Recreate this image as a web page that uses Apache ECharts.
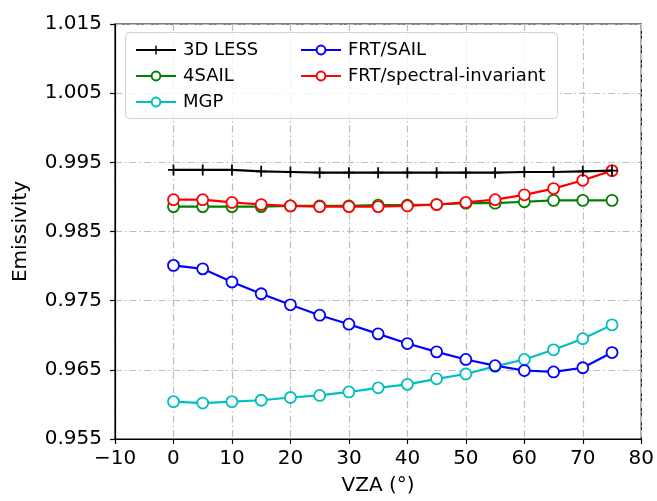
<!DOCTYPE html>
<html>
<head>
<meta charset="utf-8">
<script src="https://cdn.jsdelivr.net/npm/echarts@6/dist/echarts.min.js"></script>
<style>
  html, body { margin: 0; padding: 0; background: #fff; }
  #chart { width: 657px; height: 501px; }
</style>
</head>
<body>
<div id="chart"></div>
<script>
  // VZA angles (deg)
  const vza = [0, 5, 10, 15, 20, 25, 30, 35, 40, 45, 50, 55, 60, 65, 70, 75];

  // emissivity per model
  const less3d = [0.9939, 0.9939, 0.9939, 0.9937, 0.9936, 0.9935, 0.9935, 0.9935, 0.9935, 0.9935, 0.9935, 0.9935, 0.9936, 0.9936, 0.9937, 0.9938];
  const sail4 = [0.9886, 0.9886, 0.9886, 0.9886, 0.9887, 0.9887, 0.9887, 0.9888, 0.9888, 0.9889, 0.9891, 0.9891, 0.9893, 0.9895, 0.9895, 0.9895];
  const mgp = [0.9604, 0.9602, 0.9604, 0.9606, 0.9610, 0.9613, 0.9618, 0.9624, 0.9629, 0.9637, 0.9644, 0.9655, 0.9665, 0.9679, 0.9695, 0.9715];
  const frtSail = [0.9801, 0.9796, 0.9777, 0.9760, 0.9744, 0.9729, 0.9716, 0.9702, 0.9688, 0.9676, 0.9665, 0.9656, 0.9649, 0.9647, 0.9653, 0.9675];
  const frtSpec = [0.9896, 0.9896, 0.9892, 0.9889, 0.9887, 0.9886, 0.9886, 0.9886, 0.9887, 0.9889, 0.9892, 0.9896, 0.9903, 0.9912, 0.9924, 0.9938];

  const names = ["3D LESS", "4SAIL", "MGP", "FRT/SAIL", "FRT/spectral-invariant"];
  const colors = ["#000000", "#008000", "#00bfbf", "#0000ff", "#ff0000"];

  const font = "DejaVu Sans";
  const gridDash = [7, 3, 1.5, 3];
  // '+' marker as a filled cross
  const plusMark = "path://M-0.16,-1L0.16,-1L0.16,-0.16L1,-0.16L1,0.16L0.16,0.16L0.16,1L-0.16,1L-0.16,0.16L-1,0.16L-1,-0.16L-0.16,-0.16Z";

  const pairs = (ys) => vza.map((x, i) => [x, ys[i]]);

  const circleSeries = (name, ys, color) => ({
    name: name,
    type: "line",
    data: pairs(ys),
    symbol: "circle",
    symbolSize: 11,
    showSymbol: true,
    lineStyle: { color: color, width: 2.2 },
    itemStyle: { color: "#fff", borderColor: color, borderWidth: 1.8 },
    emphasis: { disabled: true },
  });

  const chart = echarts.init(document.getElementById("chart"));

  const legendBase = {
    orient: "vertical",
    top: 36,
    itemWidth: 40, itemHeight: 11,
    itemGap: 8,
    textStyle: { fontFamily: font, fontSize: 18, color: "#000", padding: [0, 0, 0, 2] },
    selectedMode: false,
    z: 60,
  };

  const option = {
    backgroundColor: "#fff",
    animation: false,
    grid: {
      left: 115, right: 15, top: 24, bottom: 61,
      show: true, borderColor: "#000", borderWidth: 1.2,
      backgroundColor: "transparent",
    },
    xAxis: {
      type: "value",
      min: -10, max: 80, interval: 10,
      name: "VZA (°)",
      nameLocation: "middle",
      nameGap: 37,
      nameTextStyle: { fontFamily: font, fontSize: 20, color: "#000" },
      axisLine: { show: true, onZero: false, lineStyle: { color: "#000", width: 1.2 } },
      axisTick: { show: true, inside: false, length: 5, lineStyle: { color: "#000", width: 1.2 } },
      axisLabel: {
        fontFamily: font, fontSize: 20, color: "#000", margin: 10,
        formatter: (v) => String(v).replace("-", "\u2212"),
      },
      splitLine: { show: true, lineStyle: { color: "#bdbdbd", width: 1.2, type: gridDash } },
    },
    yAxis: {
      type: "value",
      min: 0.955, max: 1.015, interval: 0.01,
      name: "Emissivity",
      nameLocation: "middle",
      nameGap: 84,
      nameTextStyle: { fontFamily: font, fontSize: 20, color: "#000" },
      axisLine: { show: true, onZero: false, lineStyle: { color: "#000", width: 1.2 } },
      axisTick: { show: true, inside: false, length: 5, lineStyle: { color: "#000", width: 1.2 } },
      axisLabel: {
        fontFamily: font, fontSize: 20, color: "#000", margin: 13,
        formatter: (v) => v.toFixed(3),
      },
      splitLine: { show: true, lineStyle: { color: "#bdbdbd", width: 1.2, type: gridDash } },
    },
    graphic: [{
      type: "rect",
      left: 125, top: 32,
      shape: { width: 432, height: 86, r: 4 },
      style: { fill: "rgba(255,255,255,0.8)", stroke: "#d0d0d0", lineWidth: 1 },
      z: 50,
    }],
    legend: [
      Object.assign({}, legendBase, { data: names.slice(0, 3), left: 130 }),
      Object.assign({}, legendBase, { data: names.slice(3), left: 295 }),
    ],
    series: [
      {
        name: names[0],
        type: "line",
        data: pairs(less3d),
        symbol: plusMark,
        symbolSize: 11,
        lineStyle: { color: colors[0], width: 2.2 },
        itemStyle: { color: colors[0] },
        emphasis: { disabled: true },
        z: 5,
      },
      circleSeries(names[1], sail4, colors[1]),
      circleSeries(names[2], mgp, colors[2]),
      circleSeries(names[3], frtSail, colors[3]),
      circleSeries(names[4], frtSpec, colors[4]),
    ],
  };

  chart.setOption(option);
</script>
</body>
</html>
